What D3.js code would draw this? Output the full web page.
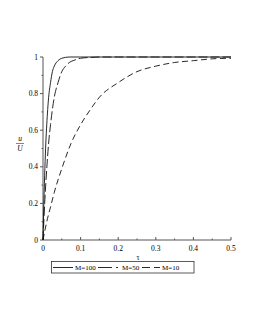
<!DOCTYPE html>
<html>
<head>
<meta charset="utf-8">
<script src="https://cdn.jsdelivr.net/npm/d3@7"></script>
<style>
  body { margin: 0; background: #fff; }
  svg text { font-family: "Liberation Serif", "DejaVu Serif", serif; }
</style>
</head>
<body>
<svg id="chart" width="255" height="330"></svg>
<script>
// values (tau, u/U)
const tau100 = [0, 0.0025, 0.005, 0.0075, 0.01, 0.015, 0.02, 0.025, 0.03, 0.04, 0.05, 0.07, 0.1, 0.2, 0.3, 0.4, 0.5];
const u100   = [0, 0.22, 0.39, 0.53, 0.63, 0.78, 0.86, 0.92, 0.95, 0.98, 0.993, 1, 1, 1, 1, 1, 1];

const tau50 = [0, 0.005, 0.01, 0.015, 0.02, 0.03, 0.04, 0.05, 0.06, 0.07, 0.08, 0.1, 0.12, 0.15, 0.2, 0.3, 0.4, 0.5];
const u50   = [0, 0.22, 0.39, 0.53, 0.63, 0.78, 0.86, 0.92, 0.95, 0.97, 0.98, 0.993, 0.997, 1, 1, 1, 1, 1];

const tau10 = [0, 0.01, 0.02, 0.03, 0.05, 0.075, 0.1, 0.125, 0.15, 0.2, 0.25, 0.3, 0.35, 0.4, 0.45, 0.5];
const u10   = [0, 0.1, 0.18, 0.26, 0.39, 0.53, 0.63, 0.71, 0.78, 0.86, 0.92, 0.95, 0.97, 0.98, 0.99, 0.993];

const seriesNames = ['M=100', 'M=50', 'M=10'];
const xTicks = [0, 0.1, 0.2, 0.3, 0.4, 0.5];
const yTicks = [0, 0.2, 0.4, 0.6, 0.8, 1];

const series = [
    { name: seriesNames[0], xs: tau100, ys: u100, dash: null, legDash: null },
    { name: seriesNames[1], xs: tau50, ys: u50, dash: '9,3', legDash: '14,4,2,4' },
    { name: seriesNames[2], xs: tau10, ys: u10, dash: '6,3.5', legDash: '8,4' },
];

const svg = d3.select('#chart');
const x = d3.scaleLinear().domain([0, 0.5]).range([43, 231]);
const y = d3.scaleLinear().domain([0, 1]).range([240, 57]);

// axes
const xAxis = svg.append('g').attr('transform', 'translate(0,240)');
xAxis.append('line').attr('x1', x(0)).attr('x2', x(0.5)).attr('stroke', '#555').attr('stroke-width', 1);
xAxis.selectAll('.maj').data(xTicks).join('line')
    .attr('x1', d => x(d)).attr('x2', d => x(d)).attr('y1', 0).attr('y2', -3)
    .attr('stroke', '#555');
xAxis.selectAll('.min').data(d3.range(0.05, 0.5, 0.1)).join('line')
    .attr('class', 'min')
    .attr('x1', d => x(d)).attr('x2', d => x(d)).attr('y1', 0).attr('y2', -1.5)
    .attr('stroke', '#555');
xAxis.selectAll('text').data(xTicks).join('text')
    .attr('x', d => x(d)).attr('y', 11)
    .attr('text-anchor', 'middle').attr('font-size', 7.5)
    .text(d => d === 0 ? '0' : d3.format('.1f')(d));

const yAxis = svg.append('g');
yAxis.append('line').attr('x1', x(0)).attr('x2', x(0)).attr('y1', y(0)).attr('y2', y(1)).attr('stroke', '#555');
yAxis.selectAll('.maj').data(yTicks).join('line')
    .attr('x1', x(0) - 3).attr('x2', x(0)).attr('y1', d => y(d)).attr('y2', d => y(d))
    .attr('stroke', '#555');
yAxis.selectAll('.min').data(d3.range(0.1, 1, 0.2)).join('line')
    .attr('class', 'min')
    .attr('x1', x(0) - 1.5).attr('x2', x(0)).attr('y1', d => y(d)).attr('y2', d => y(d))
    .attr('stroke', '#555');
yAxis.selectAll('text').data(yTicks).join('text')
    .attr('x', x(0) - 5).attr('y', d => y(d) + 2.5)
    .attr('text-anchor', 'end').attr('font-size', 7.5)
    .text(d => d === 0 || d === 1 ? String(d) : d3.format('.1f')(d));

// y label u/U
svg.append('text').attr('x', 20).attr('y', 141).attr('text-anchor', 'middle')
    .attr('font-size', 7.5).attr('font-style', 'italic').text('u');
svg.append('line').attr('x1', 16).attr('x2', 24).attr('y1', 143.5).attr('y2', 143.5)
    .attr('stroke', '#333').attr('stroke-width', 0.6);
svg.append('text').attr('x', 20).attr('y', 151).attr('text-anchor', 'middle')
    .attr('font-size', 7.5).attr('font-style', 'italic').text('U');

// x label
svg.append('text').attr('x', 138).attr('y', 260).attr('text-anchor', 'middle')
    .attr('font-size', 7.5).text('τ');

// curves
const line = d3.line().curve(d3.curveMonotoneX);
svg.append('g').selectAll('path').data(series).join('path')
    .attr('d', s => line(s.xs.map((t, i) => [x(t), y(s.ys[i])])))
    .attr('fill', 'none').attr('stroke', '#111').attr('stroke-width', 0.9)
    .attr('stroke-dasharray', s => s.dash);

// legend
const legend = svg.append('g');
legend.append('rect').attr('x', 51.5).attr('y', 261.5).attr('width', 142.5).attr('height', 11.5)
    .attr('fill', 'none').attr('stroke', '#333').attr('stroke-width', 0.8);
const legX = [53, 98, 142];
const legLen = [20, 22, 18];
const legTextX = [75, 122, 162];
series.forEach((s, i) => {
    legend.append('line').attr('x1', legX[i]).attr('x2', legX[i] + legLen[i])
        .attr('y1', 267.5).attr('y2', 267.5)
        .attr('stroke', '#111').attr('stroke-width', 0.9)
        .attr('stroke-dasharray', s.legDash);
    legend.append('text').attr('x', legTextX[i]).attr('y', 270.3)
        .attr('font-size', 7).text(s.name);
});
</script>
</body>
</html>
